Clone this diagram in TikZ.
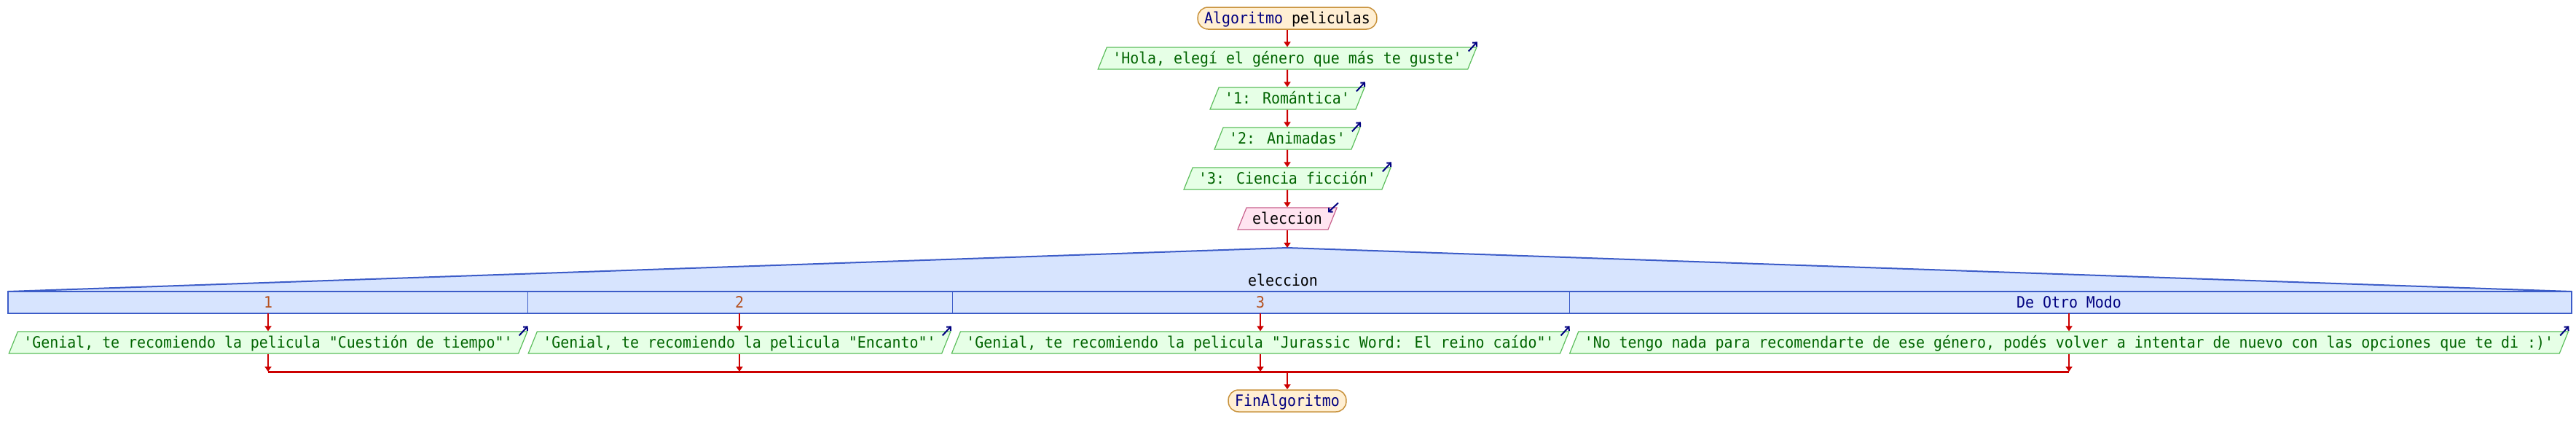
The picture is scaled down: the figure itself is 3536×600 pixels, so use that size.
\documentclass[tikz,border=0pt]{standalone}
\usepackage{fontspec}
\newfontfamily\pse{DejaVu Sans Mono}[FakeStretch=0.926]
\usetikzlibrary{shapes.geometric,arrows.meta}
\definecolor{flowred}{HTML}{CC0000}
\definecolor{navy}{HTML}{000080}
\definecolor{sefill}{HTML}{FFEFD3}
\definecolor{seline}{HTML}{C8923C}
\definecolor{outfill}{HTML}{E6FFE6}
\definecolor{outline}{HTML}{5CBE5C}
\definecolor{outtext}{HTML}{006400}
\definecolor{infill}{HTML}{FFE4F0}
\definecolor{inline}{HTML}{C8608C}
\definecolor{swfill}{HTML}{D7E4FE}
\definecolor{swline}{HTML}{3C5CC8}
\definecolor{numtext}{HTML}{B4501E}
\tikzset{
  basetext/.style={font=\pse\fontsize{21.5pt}{24pt}\selectfont, text height=15.7pt, text depth=0pt, inner ysep=7.15pt},
  startend/.style={basetext, rectangle, rounded corners=14pt, draw=seline, fill=sefill, line width=1.5pt, inner xsep=9pt, text=navy},
  para/.style={basetext, trapezium, trapezium left angle=68, trapezium right angle=112, line width=1.2pt, inner xsep=8pt},
  outbox/.style={para, draw=outline, fill=outfill, text=outtext},
  inbox/.style={para, draw=inline, fill=infill, text=black},
  flow/.style={draw=flowred, line width=2pt, -{Triangle[width=9pt,length=7pt]}},
  icon/.style={draw=navy, line width=2pt, -{Straight Barb[length=4pt,width=8pt]}},
  swedge/.style={draw=swline, line width=2pt},
  swdiv/.style={draw=swline, line width=1pt},
  swlabel/.style={basetext, inner sep=0pt}
}
\begin{document}
\begin{tikzpicture}[x=1pt,y=-1pt]
\useasboundingbox (0,0) rectangle (3536,600);
% nodes in main column
\node[startend] (start) at (1767,25) {Algoritmo \textcolor{black}{peliculas}};
\node[outbox] (hola) at (1767,80) {'Hola, elegí el género que más te guste'};
\node[outbox] (rom) at (1767,135) {'1: Romántica'};
\node[outbox] (ani) at (1767,190) {'2: Animadas'};
\node[outbox] (cie) at (1767,245) {'3: Ciencia ficción'};
\node[inbox] (elec) at (1767,300) {eleccion};
% icons
\foreach \n in {hola,rom,ani,cie}{
  \draw[icon] ([shift={(-12,6)}]\n.top right corner) -- ([shift={(0,-7)}]\n.top right corner);
}
\draw[icon] ([shift={(1,-6)}]elec.top right corner) -- ([shift={(-13,7)}]elec.top right corner);
% switch
\coordinate (swtop) at (1767,340);
\fill[swfill] (11,400) -- (swtop) -- (3530,400) -- cycle;
\draw[swedge] (11,400) -- (swtop) -- (3530,400);
\draw[swedge, fill=swfill] (11,400) rectangle (3530,430);
\draw[swdiv] (724,400) -- (724,430);
\draw[swdiv] (1307,400) -- (1307,430);
\draw[swdiv] (2154,400) -- (2154,430);
\node[swlabel, text=black] (swvar) at (1761,384.5) {eleccion};
\node[swlabel, text=numtext] (c1) at (368,415) {1};
\node[swlabel, text=numtext] (c2) at (1015,415) {2};
\node[swlabel, text=numtext] (c3) at (1730,415) {3};
\node[swlabel, text=navy] (c4) at (2840,415) {De Otro Modo};
\coordinate (h1) at (368,430);
\coordinate (h2) at (1015,430);
\coordinate (h3) at (1730,430);
\coordinate (h4) at (2840,430);
% action boxes
\node[outbox] (a1) at (368,470) {'Genial, te recomiendo la pelicula "Cuestión de tiempo"'};
\node[outbox] (a2) at (1015,470) {'Genial, te recomiendo la pelicula "Encanto"'};
\node[outbox] (a3) at (1730,470) {'Genial, te recomiendo la pelicula "Jurassic Word: El reino caído"'};
\node[outbox] (a4) at (2840,470) {'No tengo nada para recomendarte de ese género, podés volver a intentar de nuevo con las opciones que te di :)'};
\foreach \n in {a1,a2,a3,a4}{
  \draw[icon] ([shift={(-12,6)}]\n.top right corner) -- ([shift={(0,-7)}]\n.top right corner);
}
\node[startend] (fin) at (1767,550) {FinAlgoritmo};
% merge coordinates
\coordinate (m1) at (368,510);
\coordinate (m2) at (1015,510);
\coordinate (m3) at (1730,510);
\coordinate (m4) at (2840,510);
\coordinate (mc) at (1767,510);
% connectors
\draw[flow] (start) -- (hola);
\draw[flow] (hola) -- (rom);
\draw[flow] (rom) -- (ani);
\draw[flow] (ani) -- (cie);
\draw[flow] (cie) -- (elec);
\draw[flow] (elec) -- (swtop);
\foreach \i in {1,2,3,4}{
  \draw[flow] (h\i) -- (h\i |- a\i.north);
  \draw[flow] (h\i |- a\i.south) -- (m\i);
}
\draw[draw=flowred, line width=3pt] (m1) -- (m4);
\draw[flow] (mc) -- (fin);
\end{tikzpicture}
\end{document}
